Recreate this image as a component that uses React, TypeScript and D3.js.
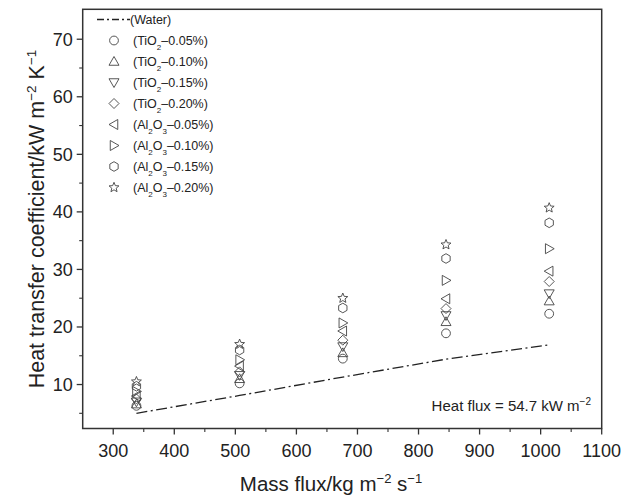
import React from "react";
import * as d3 from "d3";

const massFlux = [338, 507, 676, 845, 1014];
const water = [5.0, 8.1, 11.3, 14.4, 16.9];
const tio2_005 = [6.3, 10.2, 14.5, 18.9, 22.3];
const tio2_010 = [6.6, 11.0, 15.5, 20.9, 24.5];
const tio2_015 = [7.0, 11.6, 16.6, 22.0, 25.8];
const tio2_020 = [7.5, 12.2, 17.7, 23.2, 27.9];
const al_005 = [8.0, 13.2, 19.3, 24.9, 29.7];
const al_010 = [8.8, 14.3, 20.7, 28.1, 33.6];
const al_015 = [9.7, 16.0, 23.3, 31.9, 38.1];
const al_020 = [10.5, 17.0, 25.0, 34.3, 40.7];

const xTicks = [300, 400, 500, 600, 700, 800, 900, 1000, 1100];
const xMinor = [350, 450, 550, 650, 750, 850, 950, 1050];
const yTicks = [10, 20, 30, 40, 50, 60, 70];
const yMinor = [5, 15, 25, 35, 45, 55, 65];

type Shape = "circle" | "up" | "down" | "diamond" | "left" | "right" | "hex" | "star";

const series: { oxide: string; sub: string[]; conc: string; shape: Shape; values: number[] }[] = [
  { oxide: "TiO", sub: ["2"], conc: "0.05%", shape: "circle", values: tio2_005 },
  { oxide: "TiO", sub: ["2"], conc: "0.10%", shape: "up", values: tio2_010 },
  { oxide: "TiO", sub: ["2"], conc: "0.15%", shape: "down", values: tio2_015 },
  { oxide: "TiO", sub: ["2"], conc: "0.20%", shape: "diamond", values: tio2_020 },
  { oxide: "Al", sub: ["2", "3"], conc: "0.05%", shape: "left", values: al_005 },
  { oxide: "Al", sub: ["2", "3"], conc: "0.10%", shape: "right", values: al_010 },
  { oxide: "Al", sub: ["2", "3"], conc: "0.15%", shape: "hex", values: al_015 },
  { oxide: "Al", sub: ["2", "3"], conc: "0.20%", shape: "star", values: al_020 },
];

const W = 636;
const H = 498;
const L = 82.7;
const R = 601.7;
const T = 9.3;
const B = 428.5;

const FONT = "'Liberation Sans', Arial, Helvetica, sans-serif";
const INK = "#222";
const MK = "#444";

function shapePath(shape: Shape): string {
  const s = 5;
  const pts = (arr: [number, number][]) =>
    "M" + arr.map((p) => p[0].toFixed(2) + "," + p[1].toFixed(2)).join("L") + "Z";
  switch (shape) {
    case "circle":
      return d3.symbol(d3.symbolCircle, Math.PI * 4.4 * 4.4)() as string;
    case "up":
      return pts([[0, -s], [s * 1.0, s * 0.75], [-s * 1.0, s * 0.75]]);
    case "down":
      return pts([[0, s], [s * 1.0, -s * 0.75], [-s * 1.0, -s * 0.75]]);
    case "left":
      return pts([[-s, 0], [s * 0.75, -s * 1.0], [s * 0.75, s * 1.0]]);
    case "right":
      return pts([[s, 0], [-s * 0.75, -s * 1.0], [-s * 0.75, s * 1.0]]);
    case "diamond":
      return pts([[0, -5], [5, 0], [0, 5], [-5, 0]]);
    case "hex": {
      const r = 4.8;
      const a: [number, number][] = [];
      for (let i = 0; i < 6; i++) {
        const ang = Math.PI / 6 + (i * Math.PI) / 3;
        a.push([r * Math.cos(ang), r * Math.sin(ang)]);
      }
      return pts(a);
    }
    case "star": {
      const ro = 5.2;
      const ri = 2.3;
      const a: [number, number][] = [];
      for (let i = 0; i < 10; i++) {
        const r = i % 2 === 0 ? ro : ri;
        const ang = -Math.PI / 2 + (i * Math.PI) / 5;
        a.push([r * Math.cos(ang), r * Math.sin(ang)]);
      }
      return pts(a);
    }
  }
}

export default function App() {
  const x = d3.scaleLinear().domain([250, 1100]).range([L, R]);
  const y = d3.scaleLinear().domain([2.36, 75.2]).range([B, T]);

  const line = d3
    .line<number>()
    .x((_, i) => x(massFlux[i]))
    .y((d) => y(d));

  const legX = 114;
  const legTextX = 133;
  const legY0 = 19.5;
  const legDy = 21;

  return (
    <svg
      width={W}
      height={H}
      style={{ position: "absolute", left: 0, top: 0, background: "#fff" }}
      fontFamily={FONT}
    >
      <rect x={0} y={0} width={W} height={H} fill="#fff" />

      {/* water line */}
      <path d={line(water) as string} fill="none" stroke={INK} strokeWidth={1.3} strokeDasharray="11,3.5,2,3.5" />

      {/* markers */}
      {series.map((s, si) =>
        s.values.map((v, i) => (
          <path
            key={si + "-" + i}
            d={shapePath(s.shape)}
            transform={`translate(${x(massFlux[i])},${y(v)})`}
            fill="none"
            stroke={MK}
            strokeWidth={0.9}
          />
        ))
      )}

      {/* frame */}
      <rect x={L} y={T} width={R - L} height={B - T} fill="none" stroke="#333" strokeWidth={1.5} />

      {/* x ticks */}
      {xTicks.map((t) => (
        <g key={"xt" + t}>
          <line x1={x(t)} x2={x(t)} y1={B} y2={B + 6} stroke="#333" strokeWidth={1.3} />
          <text x={x(t)} y={B + 28} textAnchor="middle" fontSize={18} fill={INK}>
            {t}
          </text>
        </g>
      ))}
      {xMinor.map((t) => (
        <line key={"xm" + t} x1={x(t)} x2={x(t)} y1={B} y2={B + 3.5} stroke="#333" strokeWidth={1.1} />
      ))}

      {/* y ticks */}
      {yTicks.map((t) => (
        <g key={"yt" + t}>
          <line x1={L - 6} x2={L} y1={y(t)} y2={y(t)} stroke="#333" strokeWidth={1.3} />
          <text x={L - 10} y={y(t) + 6.5} textAnchor="end" fontSize={18} fill={INK}>
            {t}
          </text>
        </g>
      ))}
      {yMinor.map((t) => (
        <line key={"ym" + t} x1={L - 3.5} x2={L} y1={y(t)} y2={y(t)} stroke="#333" strokeWidth={1.1} />
      ))}

      {/* x title */}
      <text x={331} y={491} textAnchor="middle" fontSize={20.5} fill={INK}>
        Mass flux/kg m
        <tspan fontSize={13} dy={-8}>−2</tspan>
        <tspan dy={8}> s</tspan>
        <tspan fontSize={13} dy={-8}>−1</tspan>
      </text>

      {/* y title */}
      <text
        transform={`translate(44,219) rotate(-90)`}
        textAnchor="middle"
        fontSize={21.5}
        fill={INK}
      >
        Heat transfer coefficient/kW m
        <tspan fontSize={13.5} dy={-8}>−2</tspan>
        <tspan dy={8}> K</tspan>
        <tspan fontSize={13.5} dy={-8}>−1</tspan>
      </text>

      {/* annotation */}
      <text x={591} y={411} textAnchor="end" fontSize={15} fill={INK}>
        Heat flux = 54.7 kW m
        <tspan fontSize={10} dy={-6}>−2</tspan>
      </text>

      {/* legend */}
      <g>
        <line x1={97} x2={130} y1={legY0} y2={legY0} stroke={INK} strokeWidth={1.3} strokeDasharray="7,3,2,3" />
        <text x={legTextX - 3} y={legY0 + 4.5} fontSize={12.5} fill={INK}>
          (Water)
        </text>
        {series.map((s, i) => {
          const yy = legY0 + legDy * (i + 1);
          return (
            <g key={"lg" + i}>
              <path d={shapePath(s.shape)} transform={`translate(${legX},${yy})`} fill="none" stroke={MK} strokeWidth={0.9} />
              <text x={legTextX} y={yy + 4.5} fontSize={12.5} fill={INK}>
                {s.sub.length === 1 ? (
                  <>
                    {"(" + s.oxide}
                    <tspan fontSize={8} dy={4.5}>{s.sub[0]}</tspan>
                    <tspan dy={-4.5}>{"–" + s.conc + ")"}</tspan>
                  </>
                ) : (
                  <>
                    {"(Al"}
                    <tspan fontSize={8} dy={4.5}>{s.sub[0]}</tspan>
                    <tspan dy={-4.5}>O</tspan>
                    <tspan fontSize={8} dy={4.5}>{s.sub[1]}</tspan>
                    <tspan dy={-4.5}>{"–" + s.conc + ")"}</tspan>
                  </>
                )}
              </text>
            </g>
          );
        })}
      </g>
    </svg>
  );
}
